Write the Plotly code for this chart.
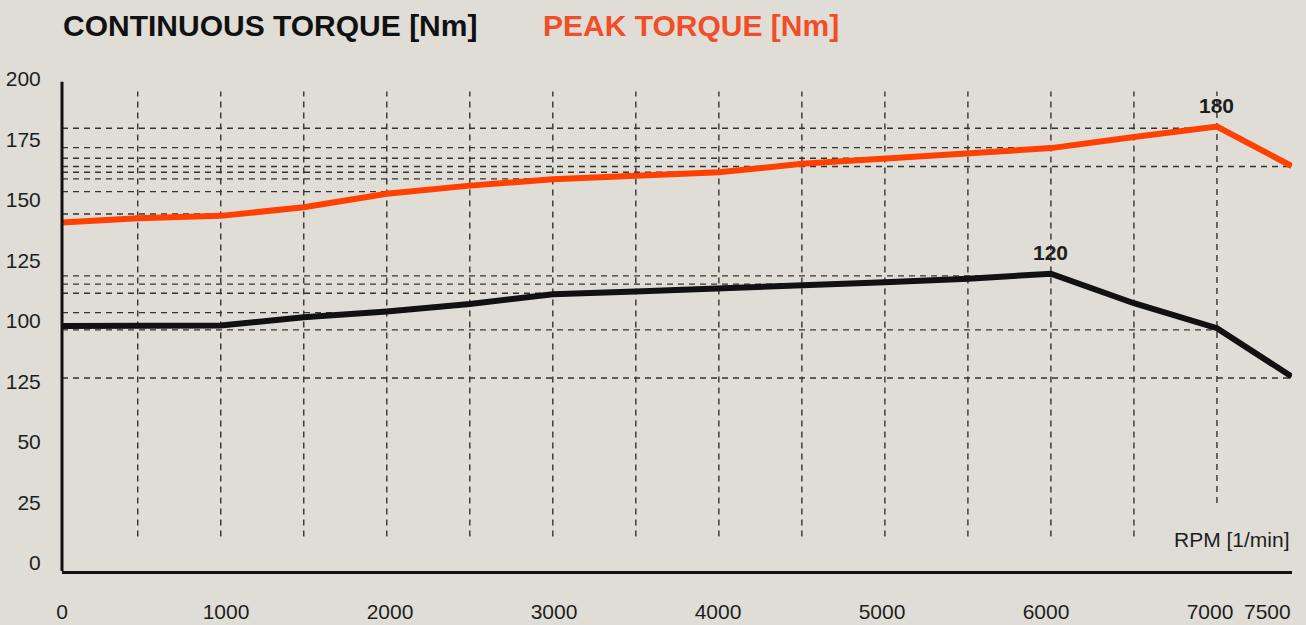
import plotly.graph_objects as go

# ---------------- data ----------------
rpm = [0, 500, 1000, 1500, 2000, 2500, 3000, 3500, 4000, 4500, 5000, 5500, 6000, 6500, 7000, 7450]
peak_torque = [140.5, 142.4, 143.4, 147.0, 152.5, 155.9, 158.5, 160.0, 161.4, 164.9, 167.2, 169.3, 171.4, 176.0, 180.3, 164.0]
continuous_torque = [97.9, 97.9, 98.1, 101.5, 103.9, 107.0, 111.0, 112.1, 113.2, 114.6, 116.0, 117.4, 119.5, 107.3, 97.0, 77.0]

x_tick_values = [0, 1000, 2000, 3000, 4000, 5000, 6000, 7000]
x_tick_labels = ["0", "1000", "2000", "3000", "4000", "5000", "6000", "7000"]
x_last_label = "7500"
y_tick_values = [0, 25, 50, 75, 100, 125, 150, 175, 200]
y_tick_labels = ["0", "25", "50", "125", "100", "125", "150", "175", "200"]

# reference (dashed) lines from the torque axis to selected points
peak_ref_values = [144.2, 153.4, 158.7, 161.4, 167.2, 171.6, 179.6, 163.8]
peak_ref_ends = [1000, 2000, 3000, 4000, 5000, 6000, 7000, 7450]
cont_ref_values = [103.4, 111.4, 115.2, 118.6, 96.3, 76.4]
cont_ref_ends = [2000, 3000, 5000, 6000, 7000, 7450]
rpm_grid = [500, 1000, 1500, 2000, 2500, 3000, 3500, 4000, 4500, 5000, 5500, 6000, 6500, 7000]
rpm_grid_bottom = [10.9] * 13 + [24.8]
rpm_grid_top = 194.8

peak_label = "180"
peak_label_rpm = 7000
cont_label = "120"
cont_label_rpm = 6000

# ---------------- style ----------------
BG = "#DFDDD6"
RED = "#FF4000"
RED_TITLE = "#F14D27"
INK = "#111111"
TXT = "#1E1E1E"
GRID = "#333333"
FONT = "Liberation Sans, Arial, sans-serif"
X_RANGE = [44, 7452]
Y_RANGE = [-3.35, 200.37]
Y_AXIS_TOP = 198.8

fig = go.Figure()

fig.add_trace(go.Scatter(x=rpm, y=peak_torque, mode="lines",
                         line=dict(color=RED, width=6), hoverinfo="skip", showlegend=False))
fig.add_trace(go.Scatter(x=rpm, y=continuous_torque, mode="lines",
                         line=dict(color=INK, width=6), hoverinfo="skip", showlegend=False))
# carrier for the labelled rpm axis
fig.add_trace(go.Scatter(x=[x_tick_values[0]], y=[y_tick_values[0]], xaxis="x2", mode="markers",
                         marker=dict(opacity=0), hoverinfo="skip", showlegend=False))

shapes = []
dash = "6px,5px"
for v, e in zip(peak_ref_values + cont_ref_values, peak_ref_ends + cont_ref_ends):
    shapes.append(dict(type="line", xref="x", yref="y", x0=X_RANGE[0], x1=e, y0=v, y1=v,
                       line=dict(color=GRID, width=1.4, dash=dash), layer="below"))
for g, b in zip(rpm_grid, rpm_grid_bottom):
    shapes.append(dict(type="line", xref="x", yref="y", x0=g, x1=g, y0=b, y1=rpm_grid_top,
                       line=dict(color=GRID, width=1.4, dash=dash), layer="below"))
# torque axis line
shapes.append(dict(type="line", xref="paper", yref="y", x0=0, x1=0, y0=Y_RANGE[0], y1=Y_AXIS_TOP,
                   line=dict(color=INK, width=3)))

annotations = [
    dict(text="CONTINUOUS TORQUE [Nm]", xref="paper", yref="paper", x=-0.001, y=1.106,
         xanchor="left", yanchor="middle", showarrow=False,
         font=dict(family=FONT, size=30, color=INK, weight="bold")),
    dict(text="PEAK TORQUE [Nm]", xref="paper", yref="paper", x=0.3895, y=1.106,
         xanchor="left", yanchor="middle", showarrow=False,
         font=dict(family=FONT, size=30, color=RED_TITLE, weight="bold")),
    dict(text=peak_label, x=peak_label_rpm, y=peak_torque[rpm.index(peak_label_rpm)], xref="x", yref="y",
         yshift=21, showarrow=False, yanchor="middle",
         font=dict(family=FONT, size=21, color=TXT, weight="bold")),
    dict(text=cont_label, x=cont_label_rpm, y=continuous_torque[rpm.index(cont_label_rpm)], xref="x", yref="y",
         yshift=21, showarrow=False, yanchor="middle",
         font=dict(family=FONT, size=21, color=TXT, weight="bold")),
    dict(text="RPM [1/min]", xref="paper", yref="paper", x=1, y=0.064,
         xanchor="right", yanchor="middle", showarrow=False,
         font=dict(family=FONT, size=21, color=TXT)),
    dict(text=x_last_label, xref="paper", yref="paper", x=1.001, y=-0.083,
         xanchor="right", yanchor="middle", showarrow=False,
         font=dict(family=FONT, size=21, color=TXT)),
]

fig.update_layout(
    width=1306, height=625,
    paper_bgcolor=BG, plot_bgcolor=BG,
    margin=dict(l=62, r=14, t=78, b=54),
    font=dict(family=FONT, size=21, color=TXT),
    shapes=shapes, annotations=annotations,
    showlegend=False,
    xaxis=dict(range=X_RANGE, showgrid=False, zeroline=False, showticklabels=False,
               showline=True, linecolor=INK, linewidth=3, ticks="", automargin=False),
    xaxis2=dict(range=[0, 7500], overlaying="x", side="bottom", showgrid=False, zeroline=False,
                showline=False, tickvals=x_tick_values, ticktext=x_tick_labels,
                ticks="outside", ticklen=22, tickcolor="rgba(0,0,0,0)", automargin=False,
                tickfont=dict(family=FONT, size=21, color=TXT)),
    yaxis=dict(range=Y_RANGE, showgrid=False, zeroline=False, showline=False,
               tickvals=y_tick_values, ticktext=y_tick_labels, automargin=False,
               ticks="outside", ticklen=16, tickcolor="rgba(0,0,0,0)",
               tickfont=dict(family=FONT, size=21, color=TXT)),
)

fig.write_html("out.html", config={"displayModeBar": False},
               post_script="document.body.style.margin='0';")
